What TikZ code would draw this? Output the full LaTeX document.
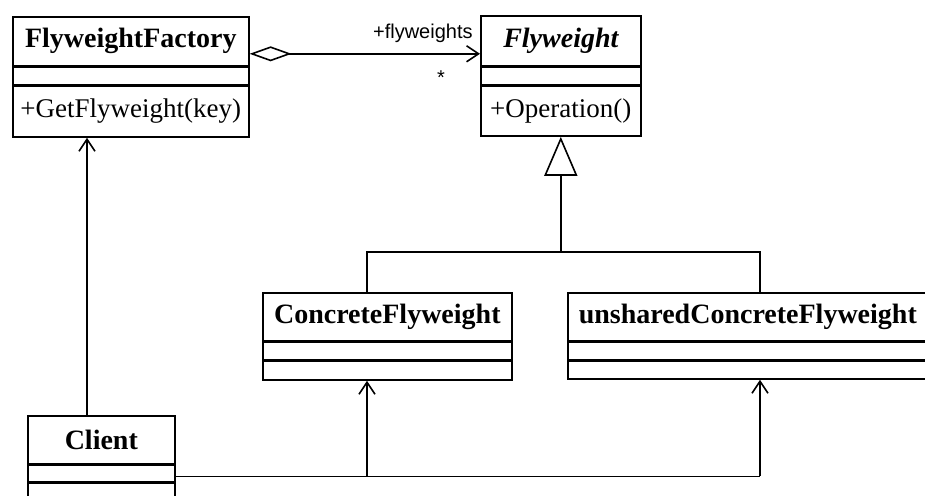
\documentclass[tikz,border=0pt]{standalone}
\usepackage{fontspec}
\setmainfont{Liberation Serif}
\newfontfamily\rolefont{Liberation Sans}
\usetikzlibrary{arrows.meta, positioning, calc}
\tikzset{
  classname/.style={rectangle, draw, line width=0.8pt, inner sep=0pt,
    font=\fontsize{14}{16}\selectfont\bfseries},
  classrow/.style={rectangle, draw, line width=0.8pt, inner sep=0pt,
    font=\fontsize{13.5}{16}\selectfont},
  rolelabel/.style={font=\rolefont\fontsize{10}{12}\selectfont, inner sep=0pt},
  assoc/.style={-{Straight Barb[length=6pt, width=8pt]}, line width=0.8pt},
  aggr/.style={{Diamond[open, length=21pt, width=7.5pt]}-{Straight Barb[length=6pt, width=8pt]},
    line width=0.8pt},
  inherit/.style={-{Triangle[open, length=19.5pt, width=16.5pt]}, line width=0.8pt},
  line/.style={line width=0.8pt}
}

\begin{document}
\begin{tikzpicture}[x=0.5pt, y=-0.5pt]
  \useasboundingbox (0,0) rectangle (925,495);
  \clip (0,0) rectangle (925,495);

  % FlyweightFactory
  \node[classname, anchor=north west, minimum width=118pt, minimum height=24.5pt]
    (fftitle) at (12,16) {FlyweightFactory};
  \node[classrow, below=0pt of fftitle, minimum width=118pt, minimum height=8.5pt] (ffattr) {};
  \node[classrow, below=0pt of ffattr, minimum width=118pt, minimum height=25.5pt]
    (ffops) {+GetFlyweight(key)};

  % Flyweight
  \node[classname, anchor=north west, minimum width=80pt, minimum height=25pt,
    font=\fontsize{14}{16}\selectfont\bfseries\itshape] (fwtitle) at (480,15) {Flyweight};
  \node[classrow, below=0pt of fwtitle, minimum width=80pt, minimum height=8.5pt] (fwattr) {};
  \node[classrow, below=0pt of fwattr, minimum width=80pt, minimum height=25pt]
    (fwops) {+Operation()};

  % ConcreteFlyweight
  \node[classname, anchor=north west, minimum width=124.5pt, minimum height=24pt]
    (cfname) at (262,292) {ConcreteFlyweight};
  \node[classrow, below=0pt of cfname, minimum width=124.5pt, minimum height=8.5pt] (cfattr) {};
  \node[classrow, below=0pt of cfattr, minimum width=124.5pt, minimum height=9.5pt] (cfops) {};

  % unsharedConcreteFlyweight
  \node[classname, anchor=north west, minimum width=180pt, minimum height=24pt]
    (ucfname) at (567,292) {unsharedConcreteFlyweight};
  \node[classrow, below=0pt of ucfname, minimum width=180pt, minimum height=8.5pt] (ucfattr) {};
  \node[classrow, below=0pt of ucfattr, minimum width=180pt, minimum height=9pt] (ucfops) {};

  % Client
  \node[classname, anchor=north west, minimum width=73.5pt, minimum height=24pt]
    (clname) at (27,415) {Client};
  \node[classrow, below=0pt of clname, minimum width=73.5pt, minimum height=8pt] (clattr) {};
  \node[classrow, below=0pt of clattr, minimum width=73.5pt, minimum height=20pt] (clops) {};

  % aggregation
  \coordinate (aggrstart) at ($(fftitle.east)+(0,12.5)$);
  \draw[aggr] (aggrstart) -- (aggrstart -| fwtitle.west);
  \node[rolelabel, anchor=base east] (rolename) at (473,38) {+flyweights};
  \node[rolelabel] (multiplicity) at (441,78) {*};

  % generalization
  \coordinate (genbus) at (fwops.south |- 0,252);
  \coordinate (genleft) at (367,252);
  \coordinate (genright) at (760,252);
  \draw[inherit] (genbus) -- (fwops.south);
  \draw[line] (cfname.north -| genleft) -- (genleft) -- (genright) -- (ucfname.north -| genright);

  % client associations
  \coordinate (clup) at (87,0);
  \draw[assoc] (clname.north -| clup) -- (ffops.south -| clup);
  \coordinate (busstart) at ($(clattr.east)+(0,3)$);
  \coordinate (busleft) at (busstart -| genleft);
  \coordinate (busright) at (busstart -| genright);
  \draw[line] (busstart) -- (busright);
  \draw[assoc] (busleft) -- (cfops.south -| busleft);
  \draw[assoc] (busright) -- (ucfops.south -| busright);
\end{tikzpicture}
\end{document}
